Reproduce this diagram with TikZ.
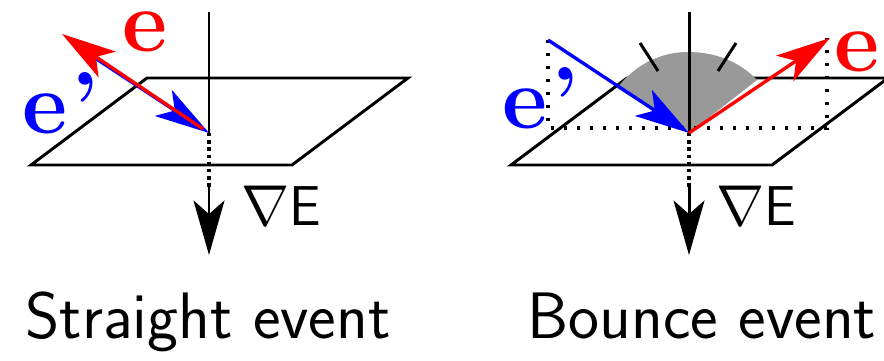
\documentclass[tikz,border=0pt]{standalone}
\usetikzlibrary{arrows.meta}

\tikzset{
	plane/.style={line width=1.7pt, line join=miter},
	spike/.style={-{Stealth[length=31pt, width=17.6pt, inset=7.7pt]}},
	photon/.style={line width=1.9pt},
	sparse/.style={line width=1.9pt, dash pattern=on 1.9pt off 5.5pt},
	tight/.style={line width=1.9pt, dash pattern=on 1.9pt off 2.2pt},
	vector/.style={font=\fontsize{50}{50}\selectfont\bfseries, inner sep=0pt},
	grad/.style={font=\fontsize{32}{32}\selectfont\sffamily, inner sep=0pt},
	caption/.style={font=\fontsize{37.4}{37.4}\selectfont\sffamily, inner sep=0pt, anchor=base},
}

\newcommand{\gradE}{\scalebox{1.32}{$\nabla$}E}

\begin{document}
\begin{tikzpicture}[x=0.02cm, y=-0.02cm]

	\useasboundingbox (0,0) rectangle (884,361);

	% --- Straight event ---
	\coordinate (hitS) at (209,133);
	\coordinate (topS) at (209,12);
	\coordinate (midS) at (209,187);
	\coordinate (endS) at (209,255);
	\coordinate (inS) at (95,58);
	\coordinate (backS) at (203,129);
	\coordinate (outS) at (62,34);

	\draw[plane] (31,165) -- (147,78) -- (408,78) -- (292,165) -- cycle;
	\draw[plane] (topS) -- (hitS);
	\draw[tight] (hitS) -- (midS);
	\draw[plane, spike] (midS) -- (endS);

	\draw[photon, color=blue, spike] (inS) -- (hitS);
	\draw[photon, color=red, spike] (backS) -- (outS);

	\node[vector, color=red] (eS) at (145,32) {e};
	\node[vector, color=blue] (primeS) at (61,103) {e\kern2pt'};
	\node[grad] (gradS) at (281,206) {\gradE};
	\node[caption] (capS) at (208,338) {Straight event};

	% --- Bounce event ---
	\coordinate (hitB) at (689,133);
	\coordinate (topB) at (689,12);
	\coordinate (midB) at (689,187);
	\coordinate (endB) at (689,255);
	\coordinate (inB) at (548,40);
	\coordinate (outB) at (830,38);
	\coordinate (footL) at (548,128);
	\coordinate (footR) at (827,128);

	\draw[plane] (511,165) -- (627,78) -- (888,78) -- (772,165) -- cycle;

	% Dome
	\fill[black!40] (hitB) -- (617,88) .. controls (635,65) and (660,52) .. (688,52)
		.. controls (716,52) and (740,62) .. (757,80) -- cycle;
	\draw[plane] (640,43) -- (658,71);
	\draw[plane] (736,43) -- (718,71);

	\draw[plane] (topB) -- (hitB);
	\draw[tight] (hitB) -- (midB);
	\draw[plane, spike] (midB) -- (endB);

	\draw[sparse] (inB) -- (footL) -- (footR) -- (827,38);

	\draw[photon, color=blue, spike] (inB) -- (hitB);
	\draw[photon, color=red, spike] (hitB) -- (outB);

	\node[vector, color=red] (eB) at (857,52) {e};
	\node[vector, color=blue] (primeB) at (541,98) {e\kern2pt'};
	\node[grad] (gradB) at (756,206) {\gradE};
	\node[caption] (capB) at (702,338) {Bounce event};

\end{tikzpicture}
\end{document}
